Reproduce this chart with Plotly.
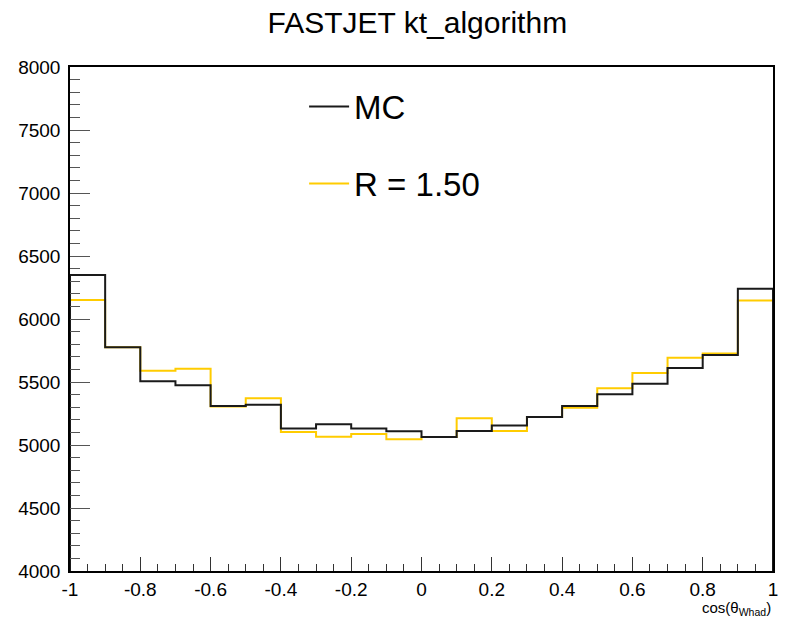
import plotly.graph_objects as go

# Bin edges of cos(theta_Whad) histogram (20 bins)
bin_edges = [-1.0, -0.9, -0.8, -0.7, -0.6, -0.5, -0.4, -0.3, -0.2, -0.1, 0.0,
             0.1, 0.2, 0.3, 0.4, 0.5, 0.6, 0.7, 0.8, 0.9, 1.0]

mc_counts = [6350, 5775, 5505, 5475, 5310, 5320, 5130, 5165, 5130, 5110,
             5063, 5112, 5155, 5222, 5310, 5402, 5487, 5611, 5714, 6241]

r150_counts = [6150, 5775, 5590, 5605, 5305, 5372, 5104, 5066, 5087, 5045,
               5063, 5212, 5111, 5222, 5296, 5450, 5571, 5693, 5727, 6146]

x_tickvals = [-1, -0.8, -0.6, -0.4, -0.2, 0, 0.2, 0.4, 0.6, 0.8, 1]
x_ticktext = ["-1", "-0.8", "-0.6", "-0.4", "-0.2", "0", "0.2", "0.4", "0.6", "0.8", "1"]
y_tickvals = [4000, 4500, 5000, 5500, 6000, 6500, 7000, 7500, 8000]

series_names = ["MC", "R = 1.50"]
series_colors = ["#1a1a1a", "#FFCC00"]


def hist_outline(edges, counts):
    # ROOT-style outline: drop to zero at both outer edges
    xs = [edges[0]] + list(edges) + [edges[-1]]
    ys = [0] + list(counts) + [counts[-1], 0]
    return xs, ys


fig = go.Figure()
for name, counts, color in [(series_names[1], r150_counts, series_colors[1]),
                            (series_names[0], mc_counts, series_colors[0])]:
    xs, ys = hist_outline(bin_edges, counts)
    fig.add_trace(go.Scatter(
        x=xs, y=ys, mode="lines", name=name,
        line=dict(color=color, width=2, shape="hv"),
        legendgroup=name, legendrank=2 if name == "R = 1.50" else 1,
    ))

font_family = "Liberation Sans, Arial, Helvetica, sans-serif"

fig.update_layout(
    width=786, height=618,
    margin=dict(l=70, r=8, t=67, b=47),
    paper_bgcolor="white", plot_bgcolor="white",
    font=dict(family=font_family, color="black", size=18),
    title=dict(text="FASTJET kt_algorithm", x=0.531, xanchor="center",
               y=1 - 22 / 618, yanchor="middle",
               font=dict(size=30, family=font_family, color="black")),
    showlegend=True,
    legend=dict(x=0.333, y=0.977, xanchor="left", yanchor="top",
                font=dict(size=33, family=font_family, color="black"),
                bgcolor="rgba(0,0,0,0)", tracegroupgap=31,
                itemwidth=40),
    xaxis=dict(range=[-1, 1], tickvals=x_tickvals, ticktext=x_ticktext,
               ticks="inside", ticklen=14, tickwidth=1, tickcolor="#333",
               showline=True, linecolor="black", linewidth=1.5, mirror=True,
               showgrid=False, zeroline=False,
               tickfont=dict(size=19),
               minor=dict(dtick=0.05, ticks="inside", ticklen=7, tickcolor="#333",
                          tickwidth=1, showgrid=False)),
    yaxis=dict(range=[4000, 8000], tickvals=y_tickvals,
               ticks="inside", ticklen=20, tickwidth=1, tickcolor="#555",
               showline=True, linecolor="black", linewidth=1.5, mirror=True,
               showgrid=False, zeroline=False,
               tickfont=dict(size=19), ticklabelstandoff=4,
               minor=dict(dtick=100, ticks="inside", ticklen=10, tickcolor="#555",
                          tickwidth=1, showgrid=False)),
    annotations=[dict(text="cos(θ<sub>Whad</sub>)", xref="paper", yref="paper",
                      x=1.0, y=-0.051, xanchor="right", yanchor="top",
                      showarrow=False, font=dict(size=15, family=font_family))],
)

fig.write_html("out.html")
